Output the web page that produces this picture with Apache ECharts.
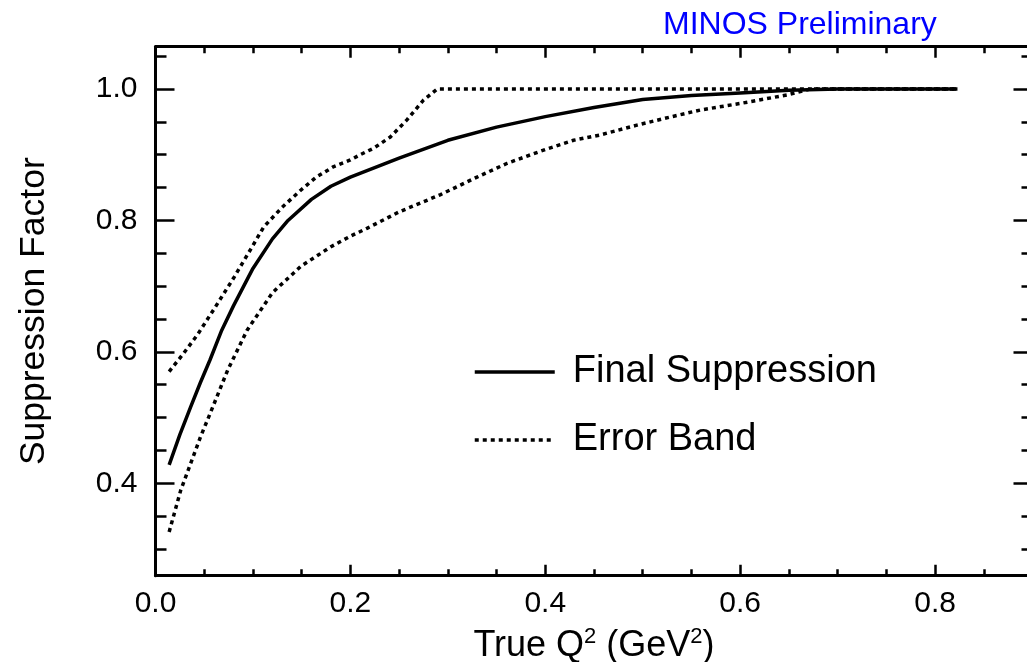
<!DOCTYPE html>
<html><head><meta charset="utf-8">
<script src="https://cdn.jsdelivr.net/npm/echarts@6/dist/echarts.min.js"></script>
<style>html,body{margin:0;padding:0;background:#fff;}#c{width:1027px;height:662px;}</style>
</head><body><div id="c"></div>
<script>
// ---- data ----
const centralX = [0.014, 0.025, 0.036, 0.046, 0.056, 0.068, 0.08, 0.1, 0.12, 0.136, 0.16, 0.18, 0.2, 0.25, 0.3, 0.35, 0.4, 0.45, 0.5, 0.55, 0.6, 0.65, 0.7, 0.823];
const centralY = [0.428, 0.474, 0.516, 0.553, 0.588, 0.633, 0.670, 0.727, 0.772, 0.800, 0.832, 0.852, 0.866, 0.895, 0.922, 0.942, 0.958, 0.972, 0.984, 0.990, 0.994, 0.998, 1.0, 1.0];
const upperX = [0.014, 0.029, 0.043, 0.06, 0.08, 0.1, 0.111, 0.13, 0.149, 0.165, 0.183, 0.2, 0.21, 0.224, 0.241, 0.258, 0.275, 0.289, 0.823];
const upperY = [0.570, 0.598, 0.626, 0.665, 0.712, 0.762, 0.790, 0.820, 0.846, 0.866, 0.882, 0.892, 0.900, 0.910, 0.927, 0.953, 0.983, 1.0, 1.0];
const lowerX = [0.014, 0.026, 0.036, 0.046, 0.056, 0.074, 0.094, 0.12, 0.149, 0.18, 0.2, 0.217, 0.25, 0.292, 0.33, 0.361, 0.4, 0.429, 0.456, 0.494, 0.53, 0.559, 0.6, 0.648, 0.672, 0.823];
const lowerY = [0.326, 0.390, 0.430, 0.470, 0.506, 0.572, 0.633, 0.690, 0.730, 0.760, 0.776, 0.788, 0.813, 0.839, 0.866, 0.887, 0.908, 0.922, 0.930, 0.945, 0.958, 0.968, 0.978, 0.991, 1.0, 1.0];
const xTicks = [0.0, 0.2, 0.4, 0.6, 0.8];
const yTicks = [0.4, 0.6, 0.8, 1.0];
const seriesNames = ['Final Suppression', 'Error Band'];
const titleText = 'MINOS Preliminary';
const yTitle = 'Suppression Factor';

const FONT = '"Liberation Sans", Arial, Helvetica, sans-serif';
const zip = (xs, ys) => xs.map((x, i) => [x, ys[i]]);
const fmt = ticks => v => ticks.some(t => Math.abs(t - v) < 1e-6) ? v.toFixed(1) : '';

const axisLine = { show: true, onZero: false, lineStyle: { color: '#000', width: 3 } };
function xAx(pos, showLabels) {
  return {
    type: 'value', position: pos, min: 0, max: 0.9, interval: 0.2,
    axisLine: axisLine,
    axisTick: { show: true, inside: true, length: 11, lineStyle: { color: '#000', width: 2.5 } },
    minorTick: { show: true, splitNumber: 4, length: 6.5, lineStyle: { color: '#000', width: 2.5 } },
    splitLine: { show: false }, minorSplitLine: { show: false },
    axisLabel: { show: showLabels, fontSize: 30, color: '#000', fontFamily: FONT, margin: 13, formatter: fmt(xTicks) }
  };
}
function yAx(pos, showLabels) {
  return {
    type: 'value', position: pos, min: 0.2594, max: 1.0644, minInterval: 0.2, maxInterval: 0.2,
    axisLine: axisLine,
    axisTick: { show: true, inside: true, length: 19, lineStyle: { color: '#000', width: 2.5 } },
    minorTick: { show: true, splitNumber: 4, length: 11, lineStyle: { color: '#000', width: 2.5 } },
    splitLine: { show: false }, minorSplitLine: { show: false },
    axisLabel: { show: showLabels, fontSize: 30, color: '#000', fontFamily: FONT, margin: 18, formatter: fmt(yTicks) }
  };
}

const xBottom = xAx('bottom', true);
xBottom.name = '{a|True Q}{s|2}{a| (GeV}{s|2}{a|)}';
xBottom.nameLocation = 'middle';
xBottom.nameGap = 50;
xBottom.nameTextStyle = {
  rich: {
    a: { fontSize: 36, fontFamily: FONT, color: '#000', lineHeight: 40 },
    s: { fontSize: 22, fontFamily: FONT, color: '#000', lineHeight: 22, verticalAlign: 'top' }
  }
};
const yLeft = yAx('left', true);
yLeft.name = yTitle;
yLeft.nameLocation = 'middle';
yLeft.nameRotate = 90;
yLeft.nameGap = 103;
yLeft.nameTextStyle = { fontSize: 35.5, fontFamily: FONT, color: '#000' };

const lineBase = { type: 'line', showSymbol: false, symbol: 'none', smooth: false, animation: false, silent: true };

const option = {
  animation: false,
  backgroundColor: '#fff',
  title: {
    text: titleText, left: 663, top: 9, padding: 0,
    textStyle: { fontSize: 32, fontWeight: 'normal', color: '#0000ff', fontFamily: FONT }
  },
  grid: { left: 155.5, right: -5.5, top: 46.7, bottom: 86.3, containLabel: false, outerBoundsMode: 'none' },
  xAxis: [xBottom, xAx('top', false)],
  yAxis: [yLeft, yAx('right', false)],
  legend: {
    orient: 'vertical', left: 473, top: 352, padding: 0,
    itemWidth: 80, itemHeight: 4, itemGap: 28,
    itemStyle: { opacity: 0 },
    lineStyle: { width: 3.5 },
    textStyle: { fontSize: 38, lineHeight: 40, color: '#000', fontFamily: FONT, padding: [0, 0, 0, 13] },
    data: seriesNames
  },
  series: [
    Object.assign({}, lineBase, { name: seriesNames[1], data: zip(upperX, upperY), z: 2,
      lineStyle: { color: '#000', width: 3.5, type: [4, 4], cap: 'butt' }, itemStyle: { color: '#000' } }),
    Object.assign({}, lineBase, { name: seriesNames[1], data: zip(lowerX, lowerY), z: 2,
      lineStyle: { color: '#000', width: 3.5, type: [4, 4], cap: 'butt' }, itemStyle: { color: '#000' } }),
    Object.assign({}, lineBase, { name: seriesNames[0], data: zip(centralX, centralY), z: 3,
      lineStyle: { color: '#000', width: 3.5, type: 'solid' }, itemStyle: { color: '#000' } })
  ]
};
const chart = echarts.init(document.getElementById('c'), null, { renderer: 'canvas' });
chart.setOption(option);
</script></body></html>
